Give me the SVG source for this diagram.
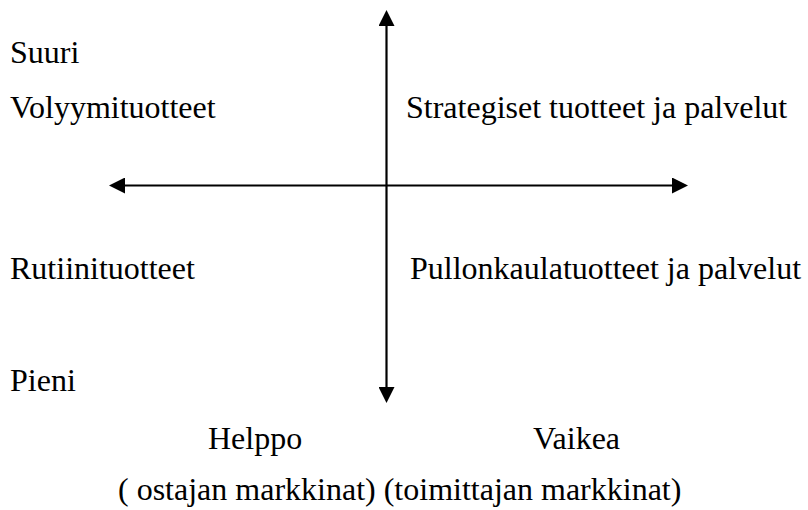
<svg xmlns="http://www.w3.org/2000/svg" width="808" height="510" viewBox="0 0 808 510">
<style>
text{font-family:"Liberation Serif",serif;font-size:32px;fill:#000}
.ax{stroke:#000;stroke-width:2.2;fill:none}
</style>
<defs>
<marker id="ah" viewBox="0 0 16 16" refX="0" refY="8" markerWidth="16" markerHeight="16" markerUnits="userSpaceOnUse" orient="auto-start-reverse">
<path d="M0,0 L16,8 L0,16 Z" fill="#000"/>
</marker>
</defs>
<g id="connectors">
<line class="ax" x1="386.5" y1="387" x2="386.5" y2="26" marker-start="url(#ah)" marker-end="url(#ah)"/>
<line class="ax" x1="125" y1="185.5" x2="672" y2="185.5" marker-start="url(#ah)" marker-end="url(#ah)"/>
</g>
<g id="suuri"><text x="10" y="63">Suuri</text></g>
<g id="volyymituotteet"><text x="10" y="118">Volyymituotteet</text></g>
<g id="strategiset"><text x="406" y="118">Strategiset tuotteet ja palvelut</text></g>
<g id="rutiinituotteet"><text x="10" y="279">Rutiinituotteet</text></g>
<g id="pullonkaula"><text x="410" y="279">Pullonkaulatuotteet ja palvelut</text></g>
<g id="pieni"><text x="10" y="391">Pieni</text></g>
<g id="helppo"><text x="208" y="449">Helppo</text></g>
<g id="vaikea"><text x="533" y="449">Vaikea</text></g>
<g id="markkinat"><text x="118" y="500">( ostajan markkinat) (toimittajan markkinat)</text></g>
</svg>
